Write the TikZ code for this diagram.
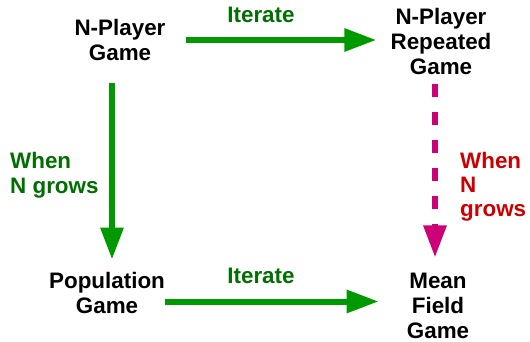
\documentclass[tikz,border=0pt]{standalone}
\usepackage{fontspec}
\setmainfont{Liberation Sans}
\usetikzlibrary{arrows.meta, calc}
\definecolor{arrgreen}{RGB}{0,153,0}
\definecolor{txtgreen}{RGB}{0,110,0}
\definecolor{txtred}{RGB}{204,0,0}
\definecolor{arrpink}{RGB}{204,0,119}

\begin{document}
\begin{tikzpicture}[
		x=1pt, y=-1pt,
		game/.style={
				align=center, inner sep=0pt,
				font=\fontsize{22.4}{25}\selectfont\bfseries
			},
		lbl/.style={
				align=left, inner sep=0pt,
				font=\fontsize{22.4}{#1}\selectfont\bfseries
			},
		arr1/.style={
				line width=6pt, color=#1,
				-{Triangle[length=32pt,width=22pt]}
			}
	]
	\useasboundingbox (0,0) rectangle (530,342);

	\node[game] (npg) at (120,40) {N-Player\\Game};
	\node[game] (rep) at (441,41.5) {N-Player\\Repeated\\Game};
	\node[game] (pop) at (107,292.5) {Population\\Game};
	\node[game] (mfg) at (438,305.5) {Mean\\Field\\Game};

	\node[lbl=25, anchor=west, text=txtgreen] (grow1) at (10,174.8) {When\\N grows};
	\node[lbl=24, anchor=west, text=txtred] (grow2) at (460,186.3) {When\\N\\grows};

	\node[lbl=25, anchor=base, text=txtgreen] (it1) at (261,23) {Iterate};
	\node[lbl=25, anchor=base, text=txtgreen] (it2) at (261,283) {Iterate};

	\coordinate (l1) at ([xshift=-8pt]npg.south);
	\coordinate (r1) at ([xshift=-6pt]rep.south);
	\coordinate (b1) at ([yshift=-9pt]pop.east);

	\draw[arr1=arrgreen, shorten <=20pt, shorten >=14pt] (npg.east) -- (npg.east -| rep.west);
	\draw[arr1=arrgreen, shorten <=22pt, shorten >=12pt] (l1) -- (l1 |- pop.north);
	\draw[arr1=arrpink, dash pattern=on 13pt off 15pt, shorten <=9pt, shorten >=15pt] (r1) -- (r1 |- mfg.north);
	\draw[arr1=arrgreen, shorten >=28pt] (b1) -- (b1 -| mfg.west);
\end{tikzpicture}
\end{document}
